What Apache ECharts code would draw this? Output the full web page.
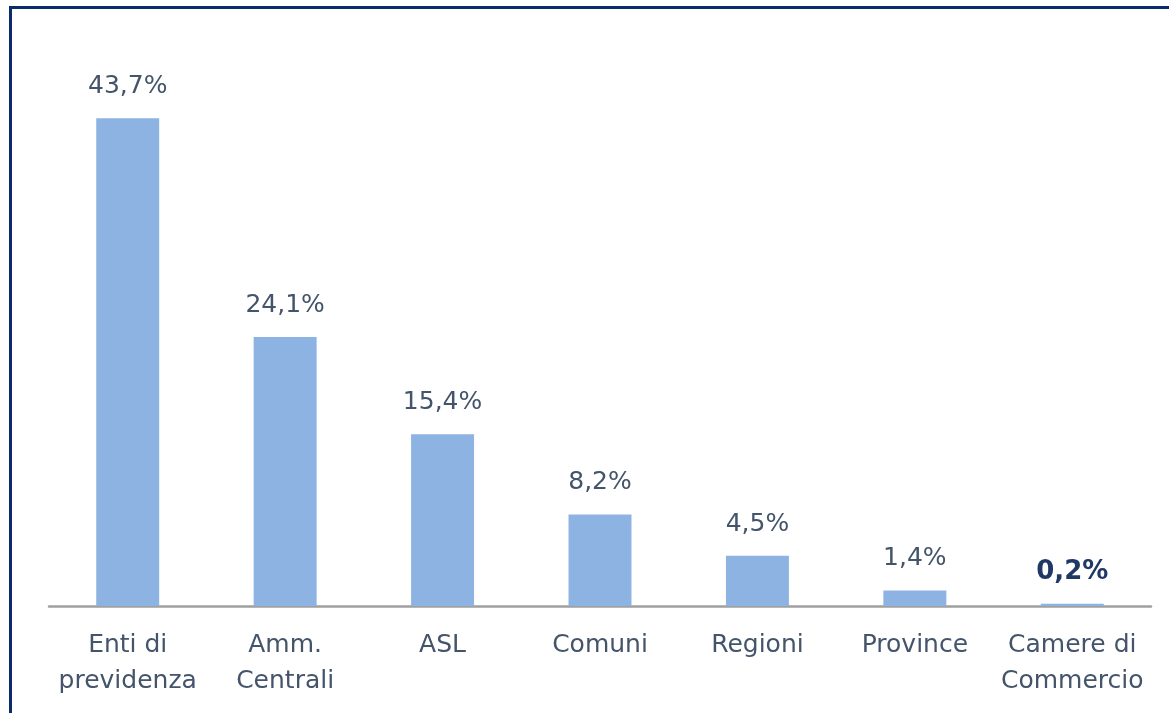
<!DOCTYPE html>
<html>
<head>
<meta charset="utf-8">
<script src="https://cdn.jsdelivr.net/npm/echarts@6/dist/echarts.min.js"></script>
<style>
  html, body { margin: 0; padding: 0; background: #fff; }
  #frame {
    position: absolute; left: 9px; top: 6px; width: 1180px; height: 720px;
    border-left: 3px solid #0c2b6b; border-top: 3px solid #0c2b6b;
  }
  #main { position: absolute; left: 0; top: 0; width: 1169px; height: 713px; }
</style>
</head>
<body>
<div id="frame"></div>
<div id="main"></div>
<script>
var categories = ["Enti di\nprevidenza", "Amm.\nCentrali", "ASL", "Comuni", "Regioni", "Province", "Camere di\nCommercio"];
var values = [43.7, 24.1, 15.4, 8.2, 4.5, 1.4, 0.2];

// ultimo valore evidenziato in grassetto
var seriesData = values.map(function (v, i) {
  var item = { value: v };
  if (i === values.length - 1) {
    item.label = { fontWeight: "bold", color: "#1f3864", fontSize: 26 };
  }
  return item;
});

var myChart = echarts.init(document.getElementById("main"));
var option = {
  animation: false,
  grid: { left: 49, right: 18, top: 48, bottom: 107 },
  xAxis: {
    type: "category",
    data: categories,
    axisLine: { lineStyle: { color: "#a0a0a0", width: 2.5 } },
    axisTick: { show: false },
    axisLabel: {
      interval: 0,
      margin: 21,
      color: "#44546a",
      fontFamily: "DejaVu Sans",
      fontSize: 25,
      lineHeight: 36
    }
  },
  yAxis: {
    type: "value",
    min: 0,
    max: 50,
    show: false,
    splitLine: { show: false }
  },
  series: [
    {
      type: "bar",
      data: seriesData,
      barWidth: "40%",
      itemStyle: { color: "#8db3e2" },
      label: {
        show: true,
        position: "top",
        distance: 19,
        color: "#44546a",
        fontFamily: "DejaVu Sans",
        fontSize: 25,
        formatter: function (p) {
          return p.value.toFixed(1).replace(".", ",") + "%";
        }
      }
    }
  ]
};
myChart.setOption(option);
</script>
</body>
</html>
